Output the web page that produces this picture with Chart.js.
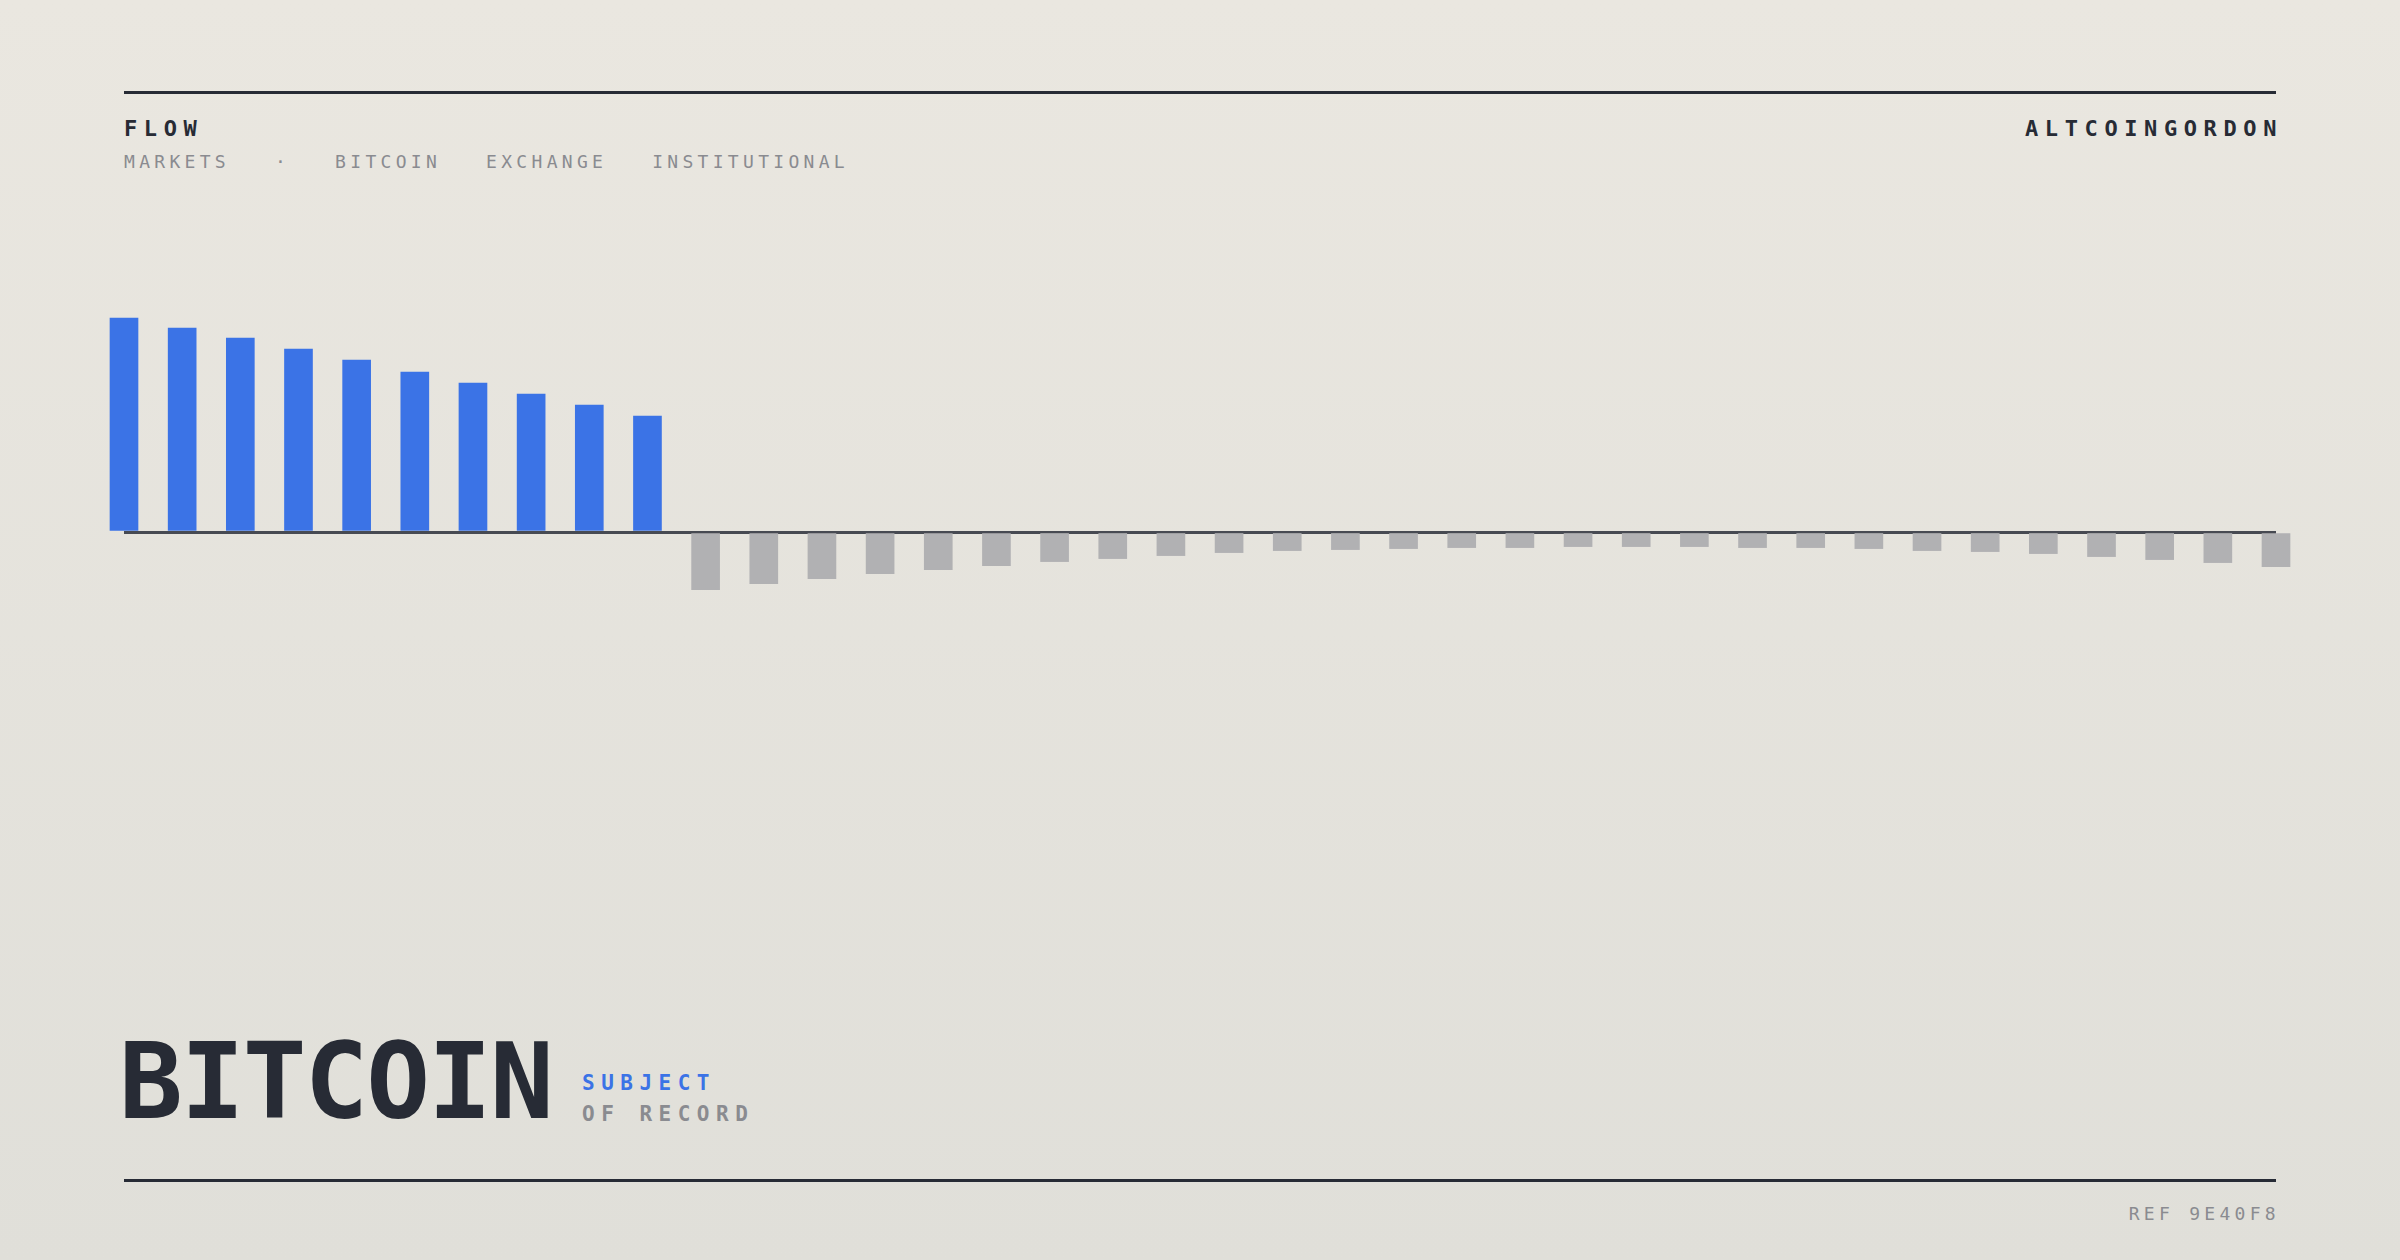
<!DOCTYPE html>
<html>
<head>
<meta charset="utf-8">
<script src="https://cdn.jsdelivr.net/npm/chart.js@4.4.1/dist/chart.umd.min.js"></script>
<style>
  html, body { margin: 0; padding: 0; }
  body {
    width: 2400px; height: 1260px; position: relative; overflow: hidden;
    background: linear-gradient(to bottom, #eae7e0, #e0dfd9);
    font-family: "DejaVu Sans Mono", "Liberation Mono", monospace;
    color: #272b35;
  }
  .rule { position: absolute; left: 124px; width: 2152px; height: 3px; background: #272b35; }
  .t { position: absolute; line-height: 1; white-space: nowrap; }
  #flow { left: 124px; top: 118px; font-size: 22px; font-weight: bold; letter-spacing: 6.6px; }
  #brand { right: 117px; top: 118px; font-size: 22px; font-weight: bold; letter-spacing: 6.6px; }
  #tags { left: 124px; top: 153px; font-size: 18px; letter-spacing: 4.3px; color: #8a8b90; display: flex; gap: 45px; }
  #big { left: 119px; top: 1029px; font-size: 106px; font-weight: bold; letter-spacing: -2px; }
  #subj { left: 582px; top: 1073px; font-size: 21px; font-weight: bold; letter-spacing: 6.5px; color: #3b73e6; }
  #rec { left: 582px; top: 1104px; font-size: 21px; font-weight: bold; letter-spacing: 6.5px; color: #8a8b90; }
  #ref { right: 120px; top: 1205px; font-size: 18px; letter-spacing: 4.3px; color: #8a8b90; }
  #wrap { position: absolute; left: 100px; top: 212px; width: 2200px; height: 800px; }
</style>
</head>
<body>
<div class="rule" style="top:91px"></div>
<div class="t" id="flow">FLOW</div>
<div class="t" id="brand">ALTCOINGORDON</div>
<div class="t" id="tags"><span>MARKETS</span><span>·</span><span>BITCOIN</span><span>EXCHANGE</span><span>INSTITUTIONAL</span></div>

<div id="wrap"><canvas id="graph" width="2200" height="800"></canvas></div>

<div class="t" id="big">BITCOIN</div>
<div class="t" id="subj">SUBJECT</div>
<div class="t" id="rec">OF RECORD</div>
<div class="rule" style="top:1179px"></div>
<div class="t" id="ref">REF 9E40F8</div>

<script>
// periods, oldest first
const periods = ["P01","P02","P03","P04","P05","P06","P07","P08","P09","P10",
                 "P11","P12","P13","P14","P15","P16","P17","P18","P19","P20",
                 "P21","P22","P23","P24","P25","P26","P27","P28","P29","P30",
                 "P31","P32","P33","P34","P35","P36","P37","P38"];

// net inflow (positive) then outflow (negative)
const inflow = [10.7, 10.2, 9.7, 9.15, 8.6, 8.0, 7.45, 6.9, 6.35, 5.8];
const outflow = [-2.88, -2.58, -2.33, -2.08, -1.88, -1.68, -1.48, -1.33, -1.18, -1.03,
                 -0.93, -0.88, -0.83, -0.78, -0.78, -0.73, -0.73, -0.73, -0.78, -0.78,
                 -0.83, -0.93, -0.98, -1.08, -1.23, -1.38, -1.53, -1.73];
const flow = inflow.concat(outflow);

const yMin = -24;
const yMax = 16;

const blue = "#3b73e6";
const grey = "#b1b1b3";

const ctx = document.getElementById("graph").getContext("2d");

let myChart = new Chart(ctx, {
    type: "bar",
    data: {
        labels: periods,
        datasets: [
            {
                label: "Flow",
                data: flow,
                backgroundColor: (c) => (c.raw >= 0 ? blue : grey),
                barThickness: 28,
                borderWidth: 0,
                clip: false
            },
        ],
    },
    options: {
        responsive: false,
        animation: false,
        devicePixelRatio: 1,
        layout: { padding: { left: 24, right: 24, top: 0, bottom: 0 } },
        plugins: {
            legend: { display: false },
            tooltip: { enabled: false }
        },
        scales: {
            x: {
                display: false,
                offset: false
            },
            y: {
                min: yMin,
                max: yMax,
                z: 1,
                ticks: { display: false, stepSize: 4 },
                border: { display: false },
                grid: {
                    drawTicks: false,
                    lineWidth: 3,
                    color: (c) => (c.tick && c.tick.value === 0 ? "#474a52" : "rgba(0,0,0,0)")
                }
            }
        }
    },
});
</script>
</body>
</html>
